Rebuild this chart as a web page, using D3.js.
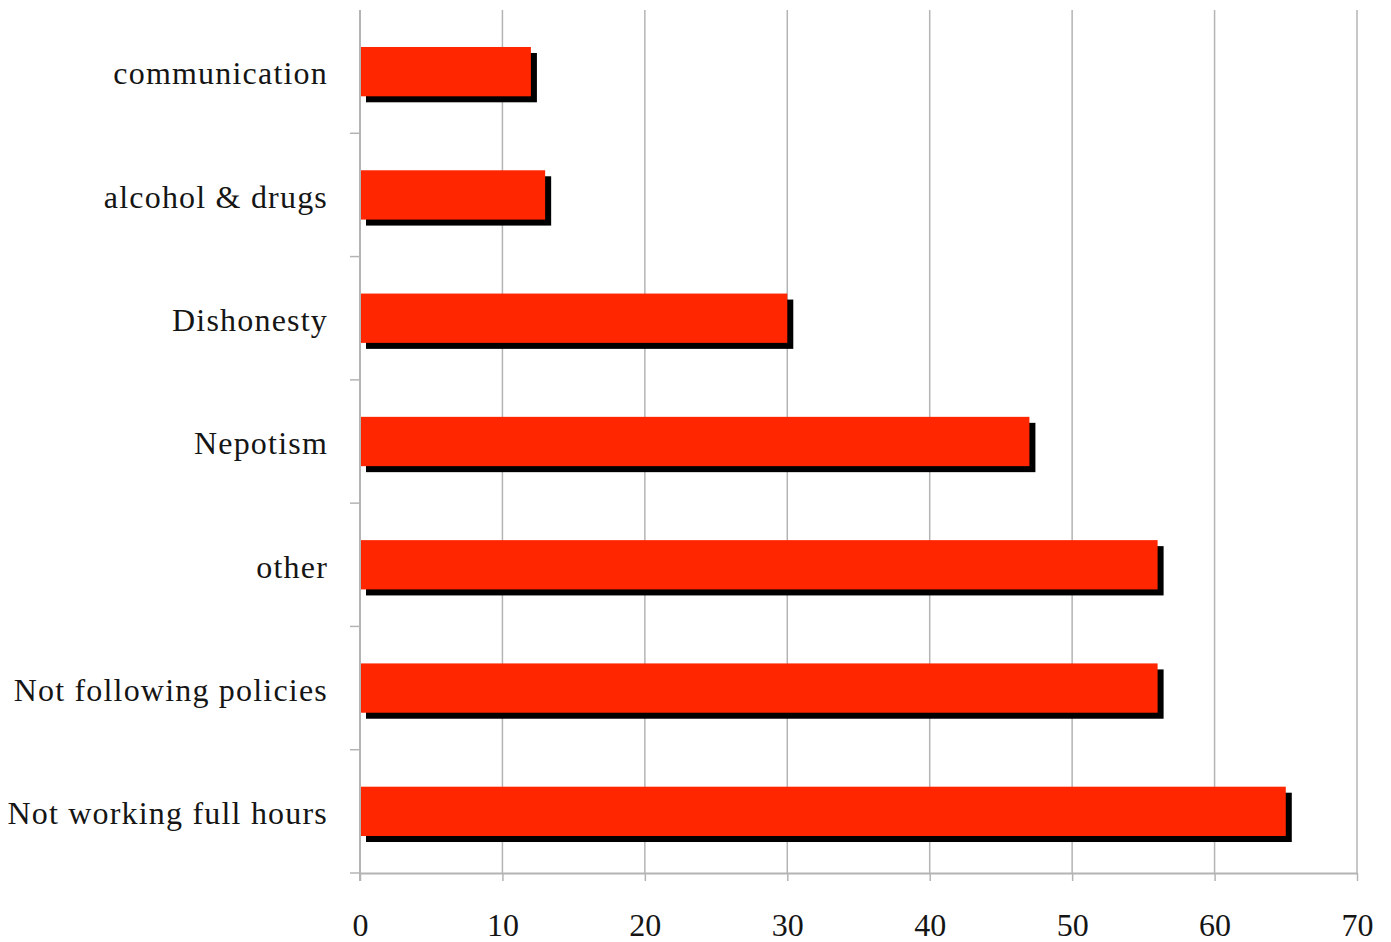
<!DOCTYPE html>
<html>
<head>
<meta charset="utf-8">
<script src="https://cdn.jsdelivr.net/npm/d3@7"></script>
<style>
  body { margin: 0; background: #fff; }
  text { font-family: "Liberation Serif", "DejaVu Serif", serif; fill: #151515; }
</style>
</head>
<body>
<div id="chart"></div>
<script>
// categories from top to bottom
var categories = ["communication", "alcohol & drugs", "Dishonesty", "Nepotism", "other", "Not following policies", "Not working full hours"];
var values = [12, 13, 30, 47, 56, 56, 65];
var xTicks = [0, 10, 20, 30, 40, 50, 60, 70];

var data = categories.map(function(c, i) {
  return { name: c, value: values[i] };
});

var margin = { top: 10, right: 34, bottom: 69, left: 360 },
  width = 1391 - margin.left - margin.right,
  height = 942 - margin.top - margin.bottom;

var svg = d3.select("#chart").append("svg")
  .attr("width", 1391)
  .attr("height", 942)
  .append("g")
  .attr("transform", "translate(" + margin.left + "," + margin.top + ")");

var x = d3.scaleLinear().domain([0, 70]).range([0, width]);
var y = d3.scaleBand().domain(categories).range([0, height]).paddingInner(0.6).paddingOuter(0.3);
var band = d3.scaleBand().domain(categories).range([0, height]);

// vertical gridlines
svg.selectAll(".grid")
  .data(xTicks.slice(1))
  .enter().append("line")
  .attr("class", "grid")
  .attr("x1", function(d) { return x(d); })
  .attr("x2", function(d) { return x(d); })
  .attr("y1", 0)
  .attr("y2", height)
  .attr("stroke", "#b4b4b4")
  .attr("stroke-width", 1.5);

// shadows
svg.selectAll(".shadow")
  .data(data)
  .enter().append("rect")
  .attr("class", "shadow")
  .attr("x", 6)
  .attr("y", function(d) { return y(d.name) + 6; })
  .attr("width", function(d) { return x(d.value); })
  .attr("height", y.bandwidth())
  .attr("fill", "#000");

// bars
svg.selectAll(".bar")
  .data(data)
  .enter().append("rect")
  .attr("class", "bar")
  .attr("x", 0)
  .attr("y", function(d) { return y(d.name); })
  .attr("width", function(d) { return x(d.value); })
  .attr("height", y.bandwidth())
  .attr("fill", "#ff2600");

// x axis
var xAxis = svg.append("g")
  .attr("transform", "translate(0," + height + ")")
  .call(d3.axisBottom(x).tickValues(xTicks).tickSize(8).tickPadding(32).tickSizeOuter(0));
xAxis.select(".domain").attr("stroke", "#b4b4b4").attr("stroke-width", 2);
xAxis.selectAll(".tick line").attr("stroke", "#b4b4b4").attr("stroke-width", 1.5);
xAxis.selectAll("text")
  .attr("font-size", 32)
  .attr("dy", "0.71em")
  .style("font-family", "Liberation Serif, serif")
  .attr("fill", "#151515");

// y axis: line plus ticks at band boundaries
svg.append("line")
  .attr("x1", 0).attr("x2", 0)
  .attr("y1", 0).attr("y2", height + 8)
  .attr("stroke", "#b4b4b4")
  .attr("stroke-width", 2);

var bounds = categories.map(function(c) { return band(c) + band.bandwidth(); });
svg.selectAll(".ytick")
  .data(bounds)
  .enter().append("line")
  .attr("class", "ytick")
  .attr("x1", -10).attr("x2", 0)
  .attr("y1", function(d) { return d; })
  .attr("y2", function(d) { return d; })
  .attr("stroke", "#b4b4b4")
  .attr("stroke-width", 1.5);

// category labels
svg.selectAll(".label")
  .data(data)
  .enter().append("text")
  .attr("class", "label")
  .attr("x", -32)
  .attr("y", function(d) { return y(d.name) + y.bandwidth() / 2; })
  .attr("dy", "0.4em")
  .attr("text-anchor", "end")
  .attr("font-size", 32)
  .attr("letter-spacing", 1.2)
  .text(function(d) { return d.name; });
</script>
</body>
</html>
